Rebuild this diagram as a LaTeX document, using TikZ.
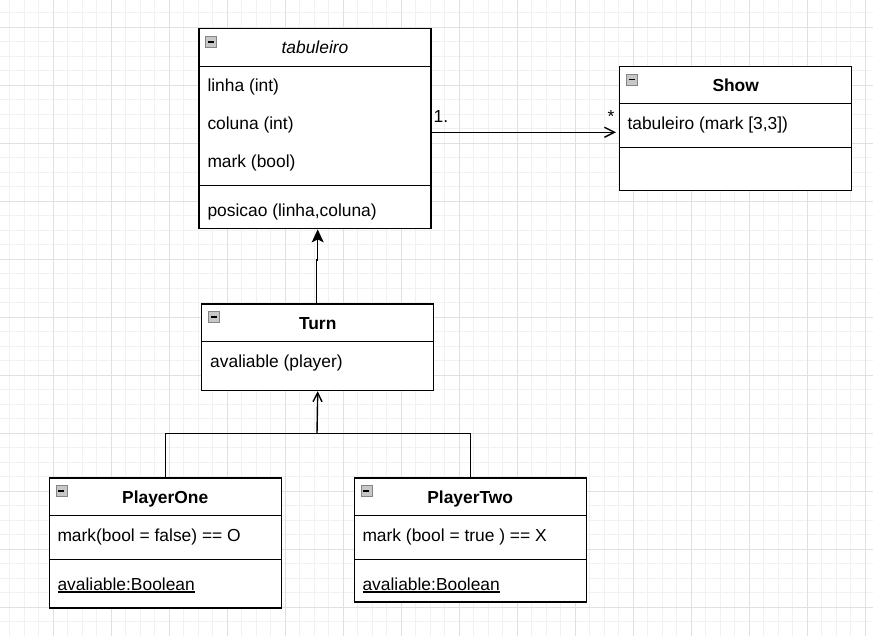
\documentclass[tikz,border=0pt]{standalone}
\usepackage{fontspec}
\setmainfont{Liberation Sans}
\usetikzlibrary{arrows.meta}

\newlength{\du}
\setlength{\du}{1pt}
\newcommand{\staticline}[1]{\setbox0\hbox{#1}\rlap{\rule[-2.2\du]{\wd0}{1.2\du}}\box0}

\definecolor{gridminor}{rgb}{0.945, 0.945, 0.945}
\definecolor{gridmajor}{rgb}{0.880, 0.880, 0.880}
\definecolor{iconfill}{rgb}{0.780, 0.780, 0.780}
\definecolor{iconline}{rgb}{0.520, 0.520, 0.520}

\tikzset{
  umlfont/.style={font=\fontsize{17.4}{20}\selectfont},
  classpart/.style={draw=black, fill=white, line width=1.4\du, minimum width=232\du,
    inner sep=0pt, anchor=north west, umlfont},
  classhead/.style={classpart, minimum height=37.5\du, text height=12.5\du, text depth=0pt,
    font=\fontsize{17.4}{20}\selectfont\bfseries},
  member/.style={anchor=base west, inner sep=0pt, umlfont},
  collapse/.style={draw=iconline, fill=iconfill, line width=0.8\du, minimum size=11\du,
    inner sep=0pt, anchor=north west},
  umlline/.style={draw=black, line width=1.4\du},
  generalize/.style={umlline, -{Stealth[length=13pt, width=12pt, inset=3pt]}},
  realize/.style={umlline, -{Straight Barb[length=9pt, width=9pt]}},
  assoc/.style={umlline, -{Straight Barb[length=10pt, width=10pt]}},
}

\begin{document}
\begin{tikzpicture}
\pgftransformyscale{-1}
\useasboundingbox (0,0) rectangle (873\du,635\du);
\fill[white] (0,0) rectangle (873\du,635\du);
% background grid
\begin{scope}
\clip (0,0) rectangle (873\du,635\du);
\draw[gridminor, line width=0.9\du, shift={(9.8\du,12.8\du)}] (-14.5\du,-14.5\du) grid[step=14.5\du] (880\du,640\du);
\draw[gridmajor, line width=0.9\du, shift={(53.3\du,27.3\du)}] (-58\du,-58\du) grid[step=58\du] (880\du,640\du);
\end{scope}

% tabuleiro
\node[classhead, font=\fontsize{17.4}{20}\selectfont\itshape] (tabHead) at (198.3\du,28\du) {tabuleiro};
\node[classpart, minimum height=119\du] (tabAttr) at (198.3\du,65.5\du) {};
\node[classpart, minimum height=43.5\du] (tabOps) at (198.3\du,184.5\du) {};
\node[collapse] (tabIcon) at (205.3\du,36\du) {\rule{6\du}{1.8\du}};
\node[member] (tabLinha) at (207.3\du,91.7\du) {linha (int)};
\node[member] (tabColuna) at (207.3\du,129.7\du) {coluna (int)};
\node[member] (tabMark) at (207.3\du,167.7\du) {mark (bool)};
\node[member] (tabPosicao) at (207.3\du,216.7\du) {posicao (linha,coluna)};

% Show
\node[classhead] (showHead) at (619\du,65.5\du) {Show};
\node[classpart, minimum height=43.5\du] (showAttr) at (619\du,103\du) {};
\node[classpart, minimum height=43.5\du] (showOps) at (619\du,146.5\du) {};
\node[collapse] (showIcon) at (626\du,73.5\du) {\rule{6\du}{1.8\du}};
\node[member] (showTab) at (627.3\du,129.3\du) {tabuleiro (mark [3,3])};

% Turn
\node[classhead] (turnHead) at (201\du,303.3\du) {Turn};
\node[classpart, minimum height=49\du] (turnAttr) at (201\du,340.8\du) {};
\node[collapse] (turnIcon) at (208\du,311\du) {\rule{6\du}{1.8\du}};
\node[member] (turnAvail) at (210\du,367.7\du) {avaliable (player)};

% PlayerOne
\node[classhead] (oneHead) at (48.5\du,477.3\du) {PlayerOne};
\node[classpart, minimum height=44\du] (oneAttr) at (48.5\du,514.8\du) {};
\node[classpart, minimum height=48.3\du] (oneOps) at (48.5\du,558.8\du) {};
\node[collapse] (oneIcon) at (55.5\du,485\du) {\rule{6\du}{1.8\du}};
\node[member] (oneMark) at (57.3\du,541.7\du) {mark(bool = false) == O};
\node[member] (oneAvail) at (57.3\du,590.3\du) {\staticline{avaliable:Boolean}};

% PlayerTwo
\node[classhead] (twoHead) at (353.5\du,477.3\du) {PlayerTwo};
\node[classpart, minimum height=44\du] (twoAttr) at (353.5\du,514.8\du) {};
\node[classpart, minimum height=42.5\du] (twoOps) at (353.5\du,558.8\du) {};
\node[collapse] (twoIcon) at (360.5\du,485\du) {\rule{6\du}{1.8\du}};
\node[member] (twoMark) at (362.3\du,541.7\du) {mark (bool = true ) == X};
\node[member] (twoAvail) at (362.3\du,590.3\du) {\staticline{avaliable:Boolean}};

% connectors
\coordinate (assocY) at (0,132.3\du);
\draw[assoc, shorten >=3pt] (tabAttr.east |- assocY) -- (showAttr.west |- assocY);
\node[member] (multTab) at (433.5\du,122\du) {1.};
\node[anchor=base, inner sep=0pt, umlfont] (multShow) at (611\du,122.5\du) {*};

\coordinate (bendA) at (316.7\du,260\du);
\coordinate (bendB) at (317.7\du,260\du);
\draw[generalize] (turnHead.north -| bendA) -- (bendA) -- (bendB) -- (bendB |- tabOps.south);

\coordinate (join) at (317\du,433.7\du);
\draw[umlline] (oneHead.north) |- (join) -| (twoHead.north);
\draw[realize] (join) -- (turnAttr.south);
\end{tikzpicture}
\end{document}
